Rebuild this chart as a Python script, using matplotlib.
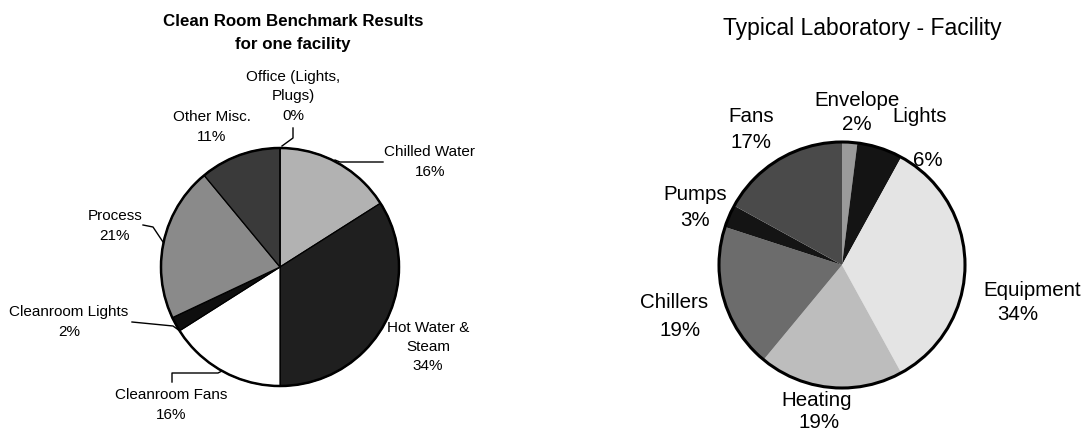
import matplotlib
matplotlib.use("Agg")
import matplotlib.pyplot as plt
from matplotlib.patches import Circle

# ---------------- data ----------------
left_title = "Clean Room Benchmark Results\nfor one facility"
left_labels = ["Chilled Water", "Hot Water &\nSteam", "Cleanroom Fans", "Cleanroom Lights",
               "Process", "Other Misc.", "Office (Lights,\nPlugs)"]
left_values = [16, 34, 16, 2, 21, 11, 0]
left_colors = ["#b2b2b2", "#1f1f1f", "#ffffff", "#0e0e0e", "#8a8a8a", "#3a3a3a", "#000000"]

right_title = "Typical Laboratory - Facility"
right_labels = ["Envelope", "Lights", "Equipment", "Heating", "Chillers", "Pumps", "Fans"]
right_values = [2, 6, 34, 19, 19, 3, 17]
right_colors = ["#9a9a9a", "#141414", "#e4e4e4", "#bdbdbd", "#6c6c6c", "#141414", "#4a4a4a"]

# ---------------- layout ----------------
W, H = 1085, 430
plt.rcParams['font.family'] = ['Liberation Sans', 'DejaVu Sans']
fig = plt.figure(figsize=(W / 100, H / 100), dpi=100)
fig.patch.set_facecolor("white")


def pix_axes(cx, cy, r):
    ax = fig.add_axes([0, 0, 1, 1])
    lims = ((-cx / r, (W - cx) / r), ((cy - H) / r, cy / r))

    def f(px, py):
        return ((px - cx) / r, (cy - py) / r)
    return ax, lims, f


# ---------- left pie ----------
axL, limsL, fL = pix_axes(280, 267, 119)
axL.pie(left_values, colors=left_colors, startangle=90, counterclock=False,
        wedgeprops=dict(edgecolor="black", linewidth=0.9))
axL.add_patch(Circle((0, 0), 1, fill=False, edgecolor="black", linewidth=1.8))
axL.set_xlim(*limsL[0]); axL.set_ylim(*limsL[1]); axL.set_axis_off()

axL.text(*fL(293, 33), left_title, ha="center", va="center", fontsize=12.2,
         fontweight="bold", linespacing=1.75)

left_pos = [(430, 162), (428, 347), (171, 405), (69, 322), (115, 226), (212, 127), (293, 96)]
for lab, val, (px, py) in zip(left_labels, left_values, left_pos):
    axL.text(*fL(px, py), f"{lab}\n{val}%", ha="center", va="center",
             fontsize=11, linespacing=1.5)

left_leaders = [
    [(293, 128), (293, 138), (282, 146)],
    [(383, 162), (340, 162), (335, 160)],
    [(143, 225), (153, 227), (163, 242)],
    [(132, 322), (173, 326), (180, 331)],
    [(172, 382), (172, 373), (218, 373), (222, 371)],
]
for pts in left_leaders:
    xs, ys = zip(*[fL(px, py) for px, py in pts])
    axL.plot(xs, ys, color="black", linewidth=1.0)

# ---------- right pie ----------
axR, limsR, fR = pix_axes(842, 265, 123)
axR.pie(right_values, colors=right_colors, startangle=90, counterclock=False,
        wedgeprops=dict(edgecolor="none", linewidth=0))
axR.add_patch(Circle((0, 0), 1, fill=False, edgecolor="black", linewidth=2.2))
axR.set_xlim(*limsR[0]); axR.set_ylim(*limsR[1]); axR.set_axis_off()

axR.text(*fR(862, 28), right_title, ha="center", va="center", fontsize=16.5)

right_name_pos = [(857, 100), (920, 117), (1032, 290), (817, 400), (674, 303), (695, 195), (751, 117)]
right_pct_pos = [(857, 125), (928, 160), (1018, 315), (819, 422), (680, 331), (695, 220), (751, 143)]
for lab, val, (nx, ny), (qx, qy) in zip(right_labels, right_values, right_name_pos, right_pct_pos):
    axR.text(*fR(nx, ny), lab, ha="center", va="center", fontsize=14.8)
    axR.text(*fR(qx, qy), f"{val}%", ha="center", va="center", fontsize=14.8)

fig.savefig("out.png", dpi=100, facecolor="white")
